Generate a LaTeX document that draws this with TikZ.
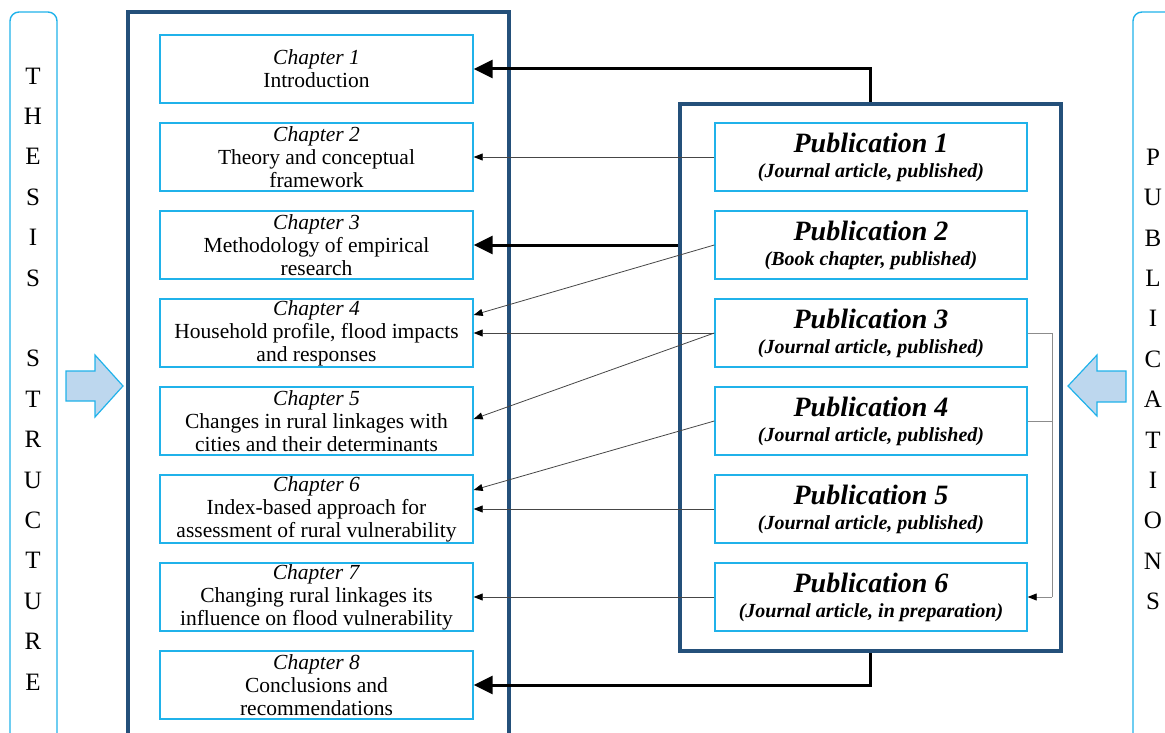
\documentclass[tikz,border=0pt]{standalone}
\usepackage{fontspec}
\setmainfont{Liberation Serif}
\usetikzlibrary{arrows.meta}

\definecolor{framecyan}{RGB}{32,178,234}
\definecolor{framenavy}{RGB}{36,80,122}
\definecolor{blockfill}{RGB}{189,215,238}
\definecolor{linkgray}{RGB}{70,70,70}
\definecolor{bracketgray}{RGB}{140,140,140}

\tikzset{
  chapbox/.style={draw=framecyan, line width=1.4pt, minimum width=313pt,
    minimum height=68pt, inner sep=0pt, align=center,
    font=\fontsize{21.5}{23}\selectfont},
  pubbox/.style={draw=framecyan, line width=1.4pt, minimum width=312pt,
    minimum height=68pt, inner sep=0pt, align=center,
    font=\bfseries\itshape\fontsize{20}{25}\selectfont},
  pubtitle/.style={},
  sideletters/.style={align=center, inner sep=0pt,
    font=\fontsize{25}{40.4}\selectfont},
  sidebar/.style={draw=framecyan, line width=1.4pt, rounded corners=9pt},
  blockarrow/.style={draw=framecyan, line width=1.2pt, fill=blockfill},
  bigframe/.style={draw=framenavy, line width=4pt},
  mainlink/.style={draw=black, line width=3pt,
    -{Triangle[length=19pt,width=18pt]}},
  sublink/.style={draw=linkgray, line width=0.8pt,
    -{Triangle[length=9pt,width=7pt,color=black]}},
  bracketline/.style={draw=bracketgray, line width=0.9pt},
}
\newcommand{\pubhead}[1]{{\fontsize{28}{25}\selectfont #1}}

\begin{document}
\begin{tikzpicture}[x=1pt, y=-1pt]
  \useasboundingbox (0,0) rectangle (1165,733);
  \clip (0,0) rectangle (1165,733);

  % side bars with spelled-out titles
  \draw[sidebar] (10,12) rectangle (57,770);
  \draw[sidebar] (1133,12) rectangle (1200,770);
  \node[sideletters] (thesisword) at (33,379)
    {T\\H\\E\\S\\I\\S\\\mbox{}\\S\\T\\R\\U\\C\\T\\U\\R\\E};
  \node[sideletters] (pubword) at (1153,379.5)
    {P\\U\\B\\L\\I\\C\\A\\T\\I\\O\\N\\S};

  % block arrows pointing into the two frames
  \draw[blockarrow] (66,371) -- (95,371) -- (95,355) -- (123,386)
    -- (95,417) -- (95,401) -- (66,401) -- cycle;
  \draw[blockarrow] (1126,371) -- (1097,371) -- (1097,355) -- (1068,386)
    -- (1097,416) -- (1097,402) -- (1126,402) -- cycle;

  % outer frames
  \draw[bigframe] (128,12.5) rectangle (508.5,780);
  \node[bigframe, minimum width=381pt, minimum height=547pt, inner sep=0pt]
    (pubframe) at (870.5,377.5) {};

  % chapters
  \node[chapbox] (ch1) at (316.5,69)  {\textit{Chapter 1}\\Introduction};
  \node[chapbox] (ch2) at (316.5,157) {\textit{Chapter 2}\\Theory and conceptual\\framework};
  \node[chapbox] (ch3) at (316.5,245) {\textit{Chapter 3}\\Methodology of empirical\\research};
  \node[chapbox] (ch4) at (316.5,333) {\textit{Chapter 4}\\Household profile, flood impacts\\and responses};
  \node[chapbox] (ch5) at (316.5,421) {\textit{Chapter 5}\\Changes in rural linkages with\\cities and their determinants};
  \node[chapbox] (ch6) at (316.5,509) {\textit{Chapter 6}\\Index-based approach for\\assessment of rural vulnerability};
  \node[chapbox] (ch7) at (316.5,597) {\textit{Chapter 7}\\Changing rural linkages its\\influence on flood vulnerability};
  \node[chapbox] (ch8) at (316.5,685) {\textit{Chapter 8}\\Conclusions and\\recommendations};

  % publications
  \node[pubbox] (pub1) at (871,157) {\pubhead{Publication 1}\\(Journal article, published)};
  \node[pubbox] (pub2) at (871,245) {\pubhead{Publication 2}\\(Book chapter, published)};
  \node[pubbox] (pub3) at (871,333) {\pubhead{Publication 3}\\(Journal article, published)};
  \node[pubbox] (pub4) at (871,421) {\pubhead{Publication 4}\\(Journal article, published)};
  \node[pubbox] (pub5) at (871,509) {\pubhead{Publication 5}\\(Journal article, published)};
  \node[pubbox] (pub6) at (871,597) {\pubhead{Publication 6}\\(Journal article, in preparation)};

  % links from the whole set of publications
  \draw[mainlink] (pubframe.north) |- (ch1.east);
  \draw[mainlink] (pubframe.west |- ch3.east) -- (ch3.east);
  \draw[mainlink] (pubframe.south) |- (ch8.east);

  % links from single publications to chapters
  \draw[sublink] (pub1.west) -- (ch2.east);
  \draw[sublink] (pub2.west) -- ([yshift=18pt]ch4.east);
  \draw[sublink] (pub3.west) -- (ch4.east);
  \draw[sublink] (pub3.west) -- ([yshift=2pt]ch5.east);
  \draw[sublink] (pub4.west) -- ([yshift=19pt]ch6.east);
  \draw[sublink] (pub5.west) -- (ch6.east);
  \draw[sublink] (pub6.west) -- (ch7.east);

  % publications 3 and 4 feeding publication 6
  \coordinate (brk) at (1052,0);
  \draw[bracketline] (pub3.east) -- (pub3.east -| brk) -- (pub6.east -| brk);
  \draw[bracketline] (pub4.east) -- (pub4.east -| brk);
  \draw[bracketline, -{Triangle[length=9pt,width=7pt,color=black]}]
    (pub6.east -| brk) -- (pub6.east);
\end{tikzpicture}
\end{document}
